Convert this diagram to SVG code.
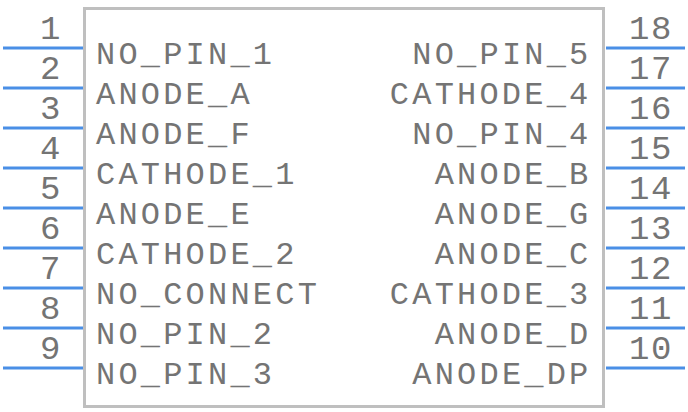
<svg xmlns="http://www.w3.org/2000/svg" width="688" height="412" viewBox="0 0 688 412">
<style>
.pin{stroke:#4A8FE6;stroke-width:3;fill:none}
.body{stroke:#BFBFBF;stroke-width:3;fill:#FFFFFF}
text{font-family:"Liberation Mono","Courier New",monospace;fill:#747474}
.l,.r{font-size:32px;letter-spacing:3.2px}
.l{text-anchor:start}
.r{text-anchor:end}
.n{text-anchor:middle;font-size:34px;letter-spacing:1.6px}
</style>
<rect width="688" height="412" fill="#FFFFFF"/>
<g id="body"><rect class="body" x="84.5" y="8.5" width="519" height="398"/></g>
<g id="connectors">
<line class="pin" x1="3" y1="48" x2="83" y2="48"/>
<line class="pin" x1="3" y1="88" x2="83" y2="88"/>
<line class="pin" x1="3" y1="128" x2="83" y2="128"/>
<line class="pin" x1="3" y1="168" x2="83" y2="168"/>
<line class="pin" x1="3" y1="208" x2="83" y2="208"/>
<line class="pin" x1="3" y1="248" x2="83" y2="248"/>
<line class="pin" x1="3" y1="288" x2="83" y2="288"/>
<line class="pin" x1="3" y1="328" x2="83" y2="328"/>
<line class="pin" x1="3" y1="368" x2="83" y2="368"/>
<line class="pin" x1="606" y1="48" x2="685" y2="48"/>
<line class="pin" x1="606" y1="88" x2="685" y2="88"/>
<line class="pin" x1="606" y1="128" x2="685" y2="128"/>
<line class="pin" x1="606" y1="168" x2="685" y2="168"/>
<line class="pin" x1="606" y1="208" x2="685" y2="208"/>
<line class="pin" x1="606" y1="248" x2="685" y2="248"/>
<line class="pin" x1="606" y1="288" x2="685" y2="288"/>
<line class="pin" x1="606" y1="328" x2="685" y2="328"/>
<line class="pin" x1="606" y1="368" x2="685" y2="368"/>
</g>
<g id="pin1"><text class="n" x="51" y="39">1</text><text class="l" x="96" y="63.5">NO_PIN_1</text></g>
<g id="pin2"><text class="n" x="51" y="79">2</text><text class="l" x="96" y="103.5">ANODE_A</text></g>
<g id="pin3"><text class="n" x="51" y="119">3</text><text class="l" x="96" y="143.5">ANODE_F</text></g>
<g id="pin4"><text class="n" x="51" y="159">4</text><text class="l" x="96" y="183.5">CATHODE_1</text></g>
<g id="pin5"><text class="n" x="51" y="199">5</text><text class="l" x="96" y="223.5">ANODE_E</text></g>
<g id="pin6"><text class="n" x="51" y="239">6</text><text class="l" x="96" y="263.5">CATHODE_2</text></g>
<g id="pin7"><text class="n" x="51" y="279">7</text><text class="l" x="96" y="303.5">NO_CONNECT</text></g>
<g id="pin8"><text class="n" x="51" y="319">8</text><text class="l" x="96" y="343.5">NO_PIN_2</text></g>
<g id="pin9"><text class="n" x="51" y="359">9</text><text class="l" x="96" y="383.5">NO_PIN_3</text></g>
<g id="pin18"><text class="n" x="651" y="39">18</text><text class="r" x="591.5" y="63.5">NO_PIN_5</text></g>
<g id="pin17"><text class="n" x="651" y="79">17</text><text class="r" x="591.5" y="103.5">CATHODE_4</text></g>
<g id="pin16"><text class="n" x="651" y="119">16</text><text class="r" x="591.5" y="143.5">NO_PIN_4</text></g>
<g id="pin15"><text class="n" x="651" y="159">15</text><text class="r" x="591.5" y="183.5">ANODE_B</text></g>
<g id="pin14"><text class="n" x="651" y="199">14</text><text class="r" x="591.5" y="223.5">ANODE_G</text></g>
<g id="pin13"><text class="n" x="651" y="239">13</text><text class="r" x="591.5" y="263.5">ANODE_C</text></g>
<g id="pin12"><text class="n" x="651" y="279">12</text><text class="r" x="591.5" y="303.5">CATHODE_3</text></g>
<g id="pin11"><text class="n" x="651" y="319">11</text><text class="r" x="591.5" y="343.5">ANODE_D</text></g>
<g id="pin10"><text class="n" x="651" y="359">10</text><text class="r" x="591.5" y="383.5">ANODE_DP</text></g>
</svg>
